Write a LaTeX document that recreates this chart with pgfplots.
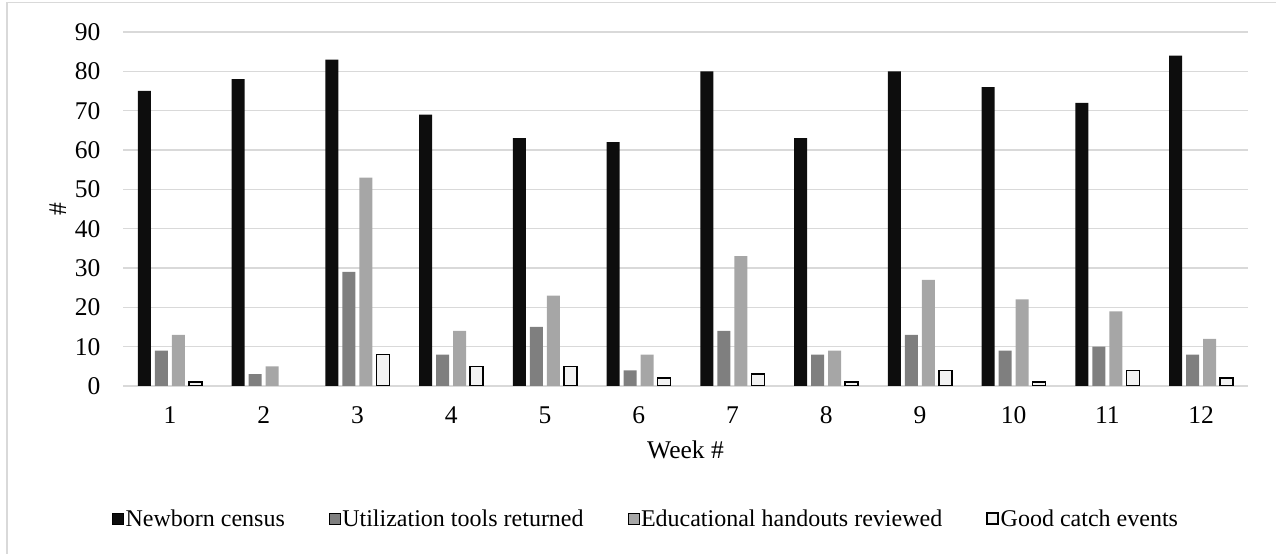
\documentclass[border=0pt]{standalone}
\usepackage{fontspec}
\setmainfont{Liberation Serif}
\usepackage{pgfplots}
\pgfplotsset{compat=1.18}

\definecolor{cNewborn}{HTML}{0D0D0D}
\definecolor{cUtil}{HTML}{7F7F7F}
\definecolor{cEdu}{HTML}{A6A6A6}
\definecolor{cGood}{HTML}{F2F2F2}
\definecolor{cGrid}{HTML}{D9D9D9}

\begin{document}
\fontsize{25.5bp}{30bp}\selectfont
\begin{tikzpicture}[x=1bp,y=1bp]
\path[use as bounding box] (0,0) rectangle (1276,554);
% chart frame (open to the right and bottom)
\draw[cGrid,line width=1.5bp] (7,-5) -- (7,551.5) -- (1285,551.5);
\begin{axis}[
  at={(123bp,168bp)}, anchor=south west,
  scale only axis, width=1125bp, height=354bp,
  xmin=0.5, xmax=12.5, ymin=0, ymax=90,
  ytick={0,10,...,90},
  xtick={1,...,12},
  axis line style={draw=none},
  major tick length=0pt,
  ymajorgrids, grid style={cGrid,line width=1.5bp},
  ybar=4bp, bar width=13bp,
  xticklabel style={yshift=-12bp},
  yticklabel style={xshift=-14bp},
  /pgf/number format/assume math mode=true,
  xlabel={Week \#},
  xlabel style={at={(axis description cs:0.5,-0.181)},anchor=center},
  ylabel={\#},
  ylabel style={at={(axis description cs:-0.058,0.5)},anchor=center},
  legend columns=4,
  legend style={draw=none, fill=none, font=\fontsize{24bp}{28bp}\selectfont,
    at={(axis description cs:0.465,-0.3785)}, anchor=center,
    /tikz/every even column/.append style={column sep=42bp},
    inner sep=0pt, nodes={inner sep=2bp}},
  legend image code/.code={\draw[#1] (0bp,-4bp) rectangle (11bp,7bp);},
]
\addplot[fill=cNewborn, draw=none] coordinates {
  (1,75) (2,78) (3,83) (4,69) (5,63) (6,62) (7,80) (8,63) (9,80) (10,76) (11,72) (12,84)};
\addplot[fill=cUtil, draw=none] coordinates {
  (1,9) (2,3) (3,29) (4,8) (5,15) (6,4) (7,14) (8,8) (9,13) (10,9) (11,10) (12,8)};
\addplot[fill=cEdu, draw=none] coordinates {
  (1,13) (2,5) (3,53) (4,14) (5,23) (6,8) (7,33) (8,9) (9,27) (10,22) (11,19) (12,12)};
% week 2 had no good catch events, so no bar is drawn there
\addplot[fill=cGood, draw=black, line width=1.5bp] coordinates {
  (1,1) (3,8) (4,5) (5,5) (6,2) (7,3) (8,1) (9,4) (10,1) (11,4) (12,2)};
\legend{Newborn census, Utilization tools returned, Educational handouts reviewed, Good catch events}
\end{axis}
\end{tikzpicture}
\end{document}
